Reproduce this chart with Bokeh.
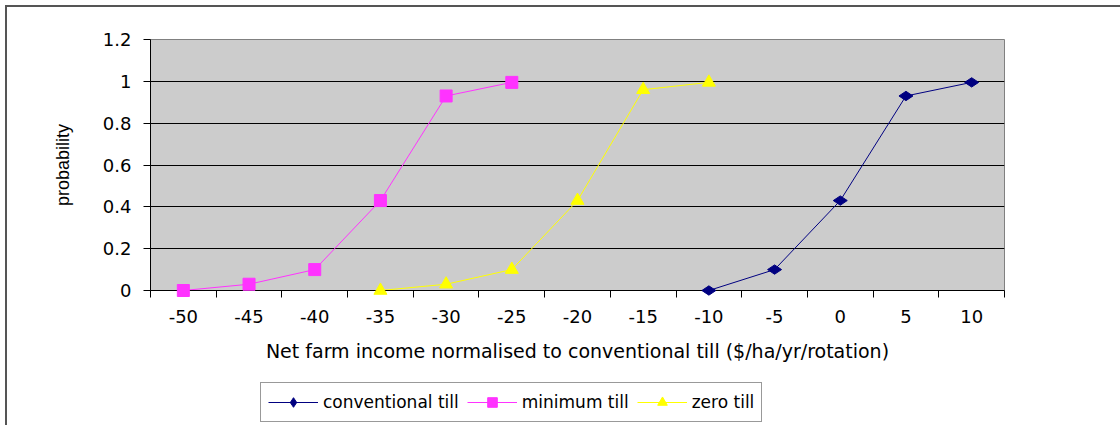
import math

from bokeh.plotting import figure
from bokeh.layouts import column
from bokeh.models import FixedTicker, Legend, LegendItem, Range1d
from bokeh.embed import file_html
from bokeh.resources import INLINE

# Category axis (net farm income, $/ha/yr/rotation)
categories = [-50, -45, -40, -35, -30, -25, -20, -15, -10, -5, 0, 5, 10]

# Probability axis
y_ticks = [0, 0.2, 0.4, 0.6, 0.8, 1.0, 1.2]
y_tick_labels = ["0", "0.2", "0.4", "0.6", "0.8", "1", "1.2"]

# Cumulative probability per tillage system
conv_x = [-10, -5, 0, 5, 10]
conv_y = [0.0, 0.10, 0.43, 0.93, 0.995]

min_x = [-50, -45, -40, -35, -30, -25]
min_y = [0.0, 0.03, 0.10, 0.43, 0.93, 0.995]

zero_x = [-35, -30, -25, -20, -15, -10]
zero_y = [0.0, 0.03, 0.10, 0.43, 0.96, 0.995]

AXIS_FONT = "DejaVu Sans"
NAVY = "#000080"
MAGENTA = "#FF33FF"
YELLOW = "#FFFF00"
WIDTH = 1113


def pos(values):
    return [categories.index(v) for v in values]


def add_series(fig):
    """Draw the three curves on fig and return (line, markers) pairs."""
    conv_line = fig.line(pos(conv_x), conv_y, line_color=NAVY, line_width=1)
    conv_pts = fig.scatter(pos(conv_x), conv_y, marker="diamond", angle=math.pi / 2,
                           size=14, fill_color=NAVY, line_color=NAVY, level="overlay")
    min_line = fig.line(pos(min_x), min_y, line_color=MAGENTA, line_width=1)
    min_pts = fig.scatter(pos(min_x), min_y, marker="square", size=12,
                          fill_color=MAGENTA, line_color=MAGENTA, level="overlay")
    zero_line = fig.line(pos(zero_x), zero_y, line_color=YELLOW, line_width=1)
    zero_pts = fig.scatter(pos(zero_x), zero_y, marker="triangle", size=13,
                           fill_color=YELLOW, line_color=YELLOW, level="overlay")
    return [(conv_line, conv_pts), (min_line, min_pts), (zero_line, zero_pts)]


# ---- main chart ----
p = figure(
    width=WIDTH,
    height=368,
    output_backend="svg",
    toolbar_location=None,
    x_range=Range1d(-0.5, len(categories) - 0.5),
    y_range=Range1d(0, 1.2),
    min_border_left=143,
    min_border_right=116,
    min_border_top=32,
    min_border_bottom=85,
    background_fill_color="#CCCCCC",
    border_fill_color="white",
    outline_line_color="#808080",
)

# x axis: labels centred on categories, tick marks between them
p.xaxis.ticker = FixedTicker(
    ticks=list(range(len(categories))),
    minor_ticks=[i - 0.5 for i in range(len(categories) + 1)],
)
p.xaxis.major_label_overrides = {i: str(c) for i, c in enumerate(categories)}
p.xaxis.major_tick_line_color = None
p.xaxis.minor_tick_line_color = "black"
p.xaxis.minor_tick_out = 7
p.xaxis.minor_tick_in = 0
p.xaxis.axis_line_color = "black"
p.xaxis.major_label_text_font = AXIS_FONT
p.xaxis.major_label_text_font_size = "18px"
p.xaxis.major_label_text_color = "black"
p.xaxis.major_label_standoff = 12
p.xaxis.axis_label = "Net farm income normalised to conventional till ($/ha/yr/rotation)"
p.xaxis.axis_label_text_font = AXIS_FONT
p.xaxis.axis_label_text_font_size = "19px"
p.xaxis.axis_label_text_font_style = "normal"
p.xaxis.axis_label_text_color = "black"
p.xaxis.axis_label_standoff = 14

# y axis
p.yaxis.ticker = FixedTicker(ticks=y_ticks)
p.yaxis.major_label_overrides = {t: l for t, l in zip(y_ticks, y_tick_labels)}
p.yaxis.minor_tick_line_color = None
p.yaxis.major_tick_out = 7
p.yaxis.major_tick_in = 0
p.yaxis.major_tick_line_color = "black"
p.yaxis.axis_line_color = "black"
p.yaxis.major_label_text_font = AXIS_FONT
p.yaxis.major_label_text_font_size = "18px"
p.yaxis.major_label_text_color = "black"
p.yaxis.major_label_standoff = 12
p.yaxis.axis_label = "probability"
p.yaxis.axis_label_text_font = "Liberation Sans"
p.yaxis.axis_label_text_font_size = "18px"
p.yaxis.axis_label_text_font_style = "normal"
p.yaxis.axis_label_text_color = "black"
p.yaxis.axis_label_standoff = 27

p.xgrid.visible = False
p.ygrid.ticker = FixedTicker(ticks=y_ticks[1:-1])
p.ygrid.grid_line_color = "black"
p.ygrid.grid_line_width = 1

add_series(p)

# ---- legend strip under the chart ----
# Same series drawn far outside the strip's ranges, so only the legend shows.
lg = figure(
    width=WIDTH,
    height=50,
    output_backend="svg",
    toolbar_location=None,
    x_range=Range1d(1000, 1001),
    y_range=Range1d(1000, 1001),
    x_axis_location=None,
    y_axis_location=None,
    min_border=0,
    outline_line_color=None,
    background_fill_color="white",
    border_fill_color="white",
)
lg.grid.visible = False
pairs = add_series(lg)
labels = ["conventional till", "minimum till", "zero till"]

legend = Legend(
    items=[LegendItem(label=lab, renderers=list(rs)) for lab, rs in zip(labels, pairs)],
    orientation="horizontal",
    location=(110, 3),
    margin=0,
    padding=7,
    spacing=8,
    glyph_width=50,
    glyph_height=24,
    label_standoff=5,
    label_text_font=AXIS_FONT,
    label_text_font_size="17px",
    label_text_color="black",
    border_line_color="#333333",
    border_line_width=1,
    background_fill_color="white",
    background_fill_alpha=1.0,
)
lg.add_layout(legend)

layout = column(
    p, lg,
    spacing=0,
    styles={
        "margin-left": "5px",
        "margin-top": "5px",
        "border-left": "2px solid #555555",
        "border-top": "2px solid #555555",
    },
)

open("out.html", "w").write(file_html(layout, INLINE))
